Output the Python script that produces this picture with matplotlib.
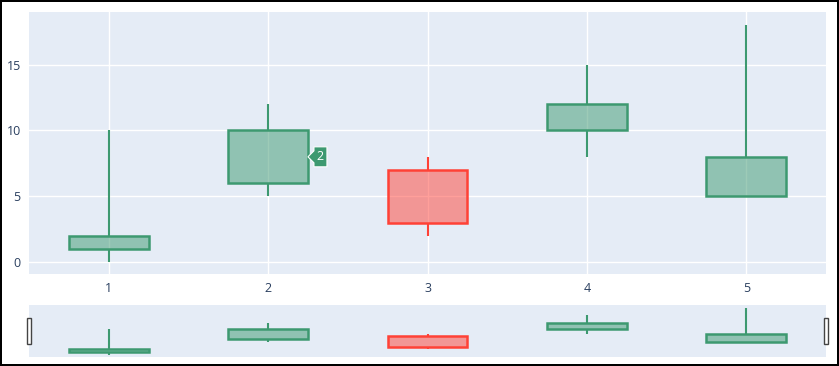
import numpy as np
import matplotlib.pyplot as plt
from matplotlib.colors import to_rgb
from matplotlib.patches import Polygon, Rectangle

plt.rcParams['font.family'] = ['Open Sans', 'DejaVu Sans']

x = [1, 2, 3, 4, 5]
open_ = [1, 6, 7, 10, 5]
close = [2, 10, 3, 12, 8]
low = [0, 5, 2, 8, 5]
high = [10, 12, 8, 15, 18]
hover_idx = 1

inc = '#3D9970'
dec = '#FF4136'
bg = '#E5ECF6'
tick_col = '#2a3f5f'

fig = plt.figure(figsize=(8.39, 3.66), dpi=100)
fig.patch.set_edgecolor('black')
fig.patch.set_linewidth(1.6)

ax = fig.add_axes([29/839, 1-274/366, 797/839, 262/366])
sl = fig.add_axes([29/839, 1-357/366, 797/839, 52/366])


def draw_candles(a):
    for xi, o, c, lo, hi in zip(x, open_, close, low, high):
        col = inc if c >= o else dec
        bot, top = min(o, c), max(o, c)
        # whiskers only outside the body, like plotly
        if lo < bot:
            a.vlines(xi, lo, bot, color=col, linewidth=1.5, zorder=2)
        if hi > top:
            a.vlines(xi, top, hi, color=col, linewidth=1.5, zorder=2)
        a.bar(xi, top - bot, bottom=bot, width=0.5,
              facecolor=(*to_rgb(col), 0.5),
              edgecolor=col, linewidth=1.8, zorder=3)


for a in (ax, sl):
    a.set_facecolor(bg)
    for s in a.spines.values():
        s.set_visible(False)
    a.set_xlim(0.5, 5.5)
    a.set_ylim(-0.9, 19.0)
    draw_candles(a)

ax.set_xticks(x)
ax.set_yticks([0, 5, 10, 15])
ax.grid(True, color='white', linewidth=1)
ax.set_axisbelow(True)
ax.tick_params(length=0, labelsize=9, colors=tick_col, pad=6)

sl.set_xticks([])
sl.set_yticks([])

# range slider handles
for frac in (0.0, 1.0):
    sl.add_patch(Rectangle((frac - 2/797, 0.5 - 13/52), 4/797, 26/52, transform=sl.transAxes,
                           facecolor='white', edgecolor='#444444', linewidth=1,
                           clip_on=False, zorder=5))

# hover label
hx = x[hover_idx] + 0.25
hy = (open_[hover_idx] + close[hover_idx]) / 2
pt = ax.transData.transform((hx, hy))
verts = np.array([(0, 0), (6, 6), (6, 10), (19, 10), (19, -10), (6, -10), (6, -6)]) + pt
ax.add_patch(Polygon(verts, closed=True, transform=None, facecolor=inc,
                     edgecolor='white', linewidth=0.8, zorder=6, clip_on=False))
ax.annotate(str(hover_idx + 1), xy=(hx, hy), xytext=(12.5 * 0.72, 0), textcoords='offset points',
            color='white', fontsize=9, ha='center', va='center', zorder=7)

fig.savefig('out.png', dpi=100)
